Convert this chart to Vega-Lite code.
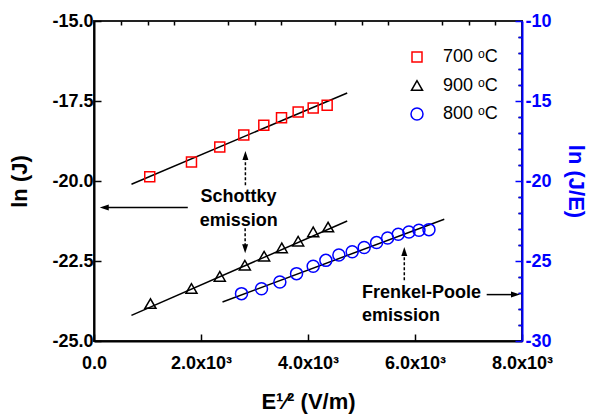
{
  "$schema": "https://vega.github.io/schema/vega-lite/v6.json",
  "width": 428,
  "height": 320,
  "autosize": {"type": "none"},
  "padding": {"left": 94, "top": 21, "right": 67, "bottom": 73},
  "background": "white",
  "config": {
    "font": "Liberation Sans",
    "view": {"stroke": "#222222", "strokeWidth": 2},
    "axis": {"grid": false}
  },
  "datasets": {
    "pts": [
      {"series": "700 ᵒC", "side": "left", "x": 1042, "y": -19.87},
      {"series": "700 ᵒC", "side": "left", "x": 1822, "y": -19.41},
      {"series": "700 ᵒC", "side": "left", "x": 2351, "y": -18.94},
      {"series": "700 ᵒC", "side": "left", "x": 2800, "y": -18.56},
      {"series": "700 ᵒC", "side": "left", "x": 3174, "y": -18.26},
      {"series": "700 ᵒC", "side": "left", "x": 3505, "y": -18.02},
      {"series": "700 ᵒC", "side": "left", "x": 3816, "y": -17.84},
      {"series": "700 ᵒC", "side": "left", "x": 4097, "y": -17.72},
      {"series": "700 ᵒC", "side": "left", "x": 4358, "y": -17.63},
      {"series": "900 ᵒC", "side": "left", "x": 1055, "y": -23.83},
      {"series": "900 ᵒC", "side": "left", "x": 1822, "y": -23.36},
      {"series": "900 ᵒC", "side": "left", "x": 2351, "y": -22.98},
      {"series": "900 ᵒC", "side": "left", "x": 2820, "y": -22.63},
      {"series": "900 ᵒC", "side": "left", "x": 3180, "y": -22.35},
      {"series": "900 ᵒC", "side": "left", "x": 3510, "y": -22.09},
      {"series": "900 ᵒC", "side": "left", "x": 3816, "y": -21.88},
      {"series": "900 ᵒC", "side": "left", "x": 4097, "y": -21.59},
      {"series": "900 ᵒC", "side": "left", "x": 4375, "y": -21.44},
      {"series": "800 ᵒC", "side": "right", "x": 2757, "y": -27.04},
      {"series": "800 ᵒC", "side": "right", "x": 3131, "y": -26.73},
      {"series": "800 ᵒC", "side": "right", "x": 3474, "y": -26.31},
      {"series": "800 ᵒC", "side": "right", "x": 3786, "y": -25.79},
      {"series": "800 ᵒC", "side": "right", "x": 4097, "y": -25.33},
      {"series": "800 ᵒC", "side": "right", "x": 4334, "y": -24.96},
      {"series": "800 ᵒC", "side": "right", "x": 4577, "y": -24.63},
      {"series": "800 ᵒC", "side": "right", "x": 4826, "y": -24.42},
      {"series": "800 ᵒC", "side": "right", "x": 5050, "y": -24.16},
      {"series": "800 ᵒC", "side": "right", "x": 5282, "y": -23.85},
      {"series": "800 ᵒC", "side": "right", "x": 5488, "y": -23.56},
      {"series": "800 ᵒC", "side": "right", "x": 5687, "y": -23.33},
      {"series": "800 ᵒC", "side": "right", "x": 5887, "y": -23.19},
      {"series": "800 ᵒC", "side": "right", "x": 6074, "y": -23.08},
      {"series": "800 ᵒC", "side": "right", "x": 6261, "y": -23.04}
    ],
    "fits": [
      {"series": "700 ᵒC", "side": "left", "x": 700, "y": -20.10},
      {"series": "700 ᵒC", "side": "left", "x": 4733, "y": -17.25},
      {"series": "900 ᵒC", "side": "left", "x": 700, "y": -24.20},
      {"series": "900 ᵒC", "side": "left", "x": 4733, "y": -21.25},
      {"series": "800 ᵒC", "side": "right", "x": 2402, "y": -27.56},
      {"series": "800 ᵒC", "side": "right", "x": 6547, "y": -22.39}
    ],
    "arrows": [
      {"style": "dash", "x": 2830, "x2": 2830, "y": -20.13, "y2": -19.2},
      {"style": "dash", "x": 2825, "x2": 2825, "y": -21.48, "y2": -22.1},
      {"style": "dash", "x": 5800, "x2": 5800, "y": -23.10, "y2": -22.2},
      {"style": "solid", "x": 1753, "x2": 250, "y": -20.83, "y2": -20.83},
      {"style": "solid", "x": 7340, "x2": 7800, "y": -23.55, "y2": -23.55}
    ],
    "heads": [
      {"dir": "up", "x": 2830, "y": -19.06},
      {"dir": "down", "x": 2825, "y": -22.26},
      {"dir": "up", "x": 5800, "y": -22.06},
      {"dir": "left", "x": 107, "y": -20.83},
      {"dir": "right", "x": 7963, "y": -23.55}
    ],
    "notes": [
      {"align": "center", "text": "Schottky", "x": 2700, "y": -20.66},
      {"align": "center", "text": "emission", "x": 2707, "y": -21.42},
      {"align": "left", "text": "Frenkel-Poole", "x": 5008, "y": -23.66},
      {"align": "left", "text": "emission", "x": 5008, "y": -24.375}
    ]
  },
  "layer": [
    {
      "resolve": {"axis": {"x": "independent", "y": "independent"}},
      "layer": [
        {
          "data": {"name": "fits"},
          "transform": [{"filter": "datum.side == 'left'"}],
          "mark": {"type": "line", "color": "black", "strokeWidth": 1.5},
          "encoding": {
            "x": {
              "field": "x", "type": "quantitative",
              "scale": {"domain": [0, 8000], "nice": false, "zero": false},
              "axis": {
                "values": [0, 2000, 4000, 6000, 8000],
                "labelExpr": "datum.value == 0 ? '0.0' : format(datum.value / 1000, '.1f') + 'x10³'",
                "tickSize": -7,
                "tickColor": "black", "tickWidth": 1.5,
                "domainColor": "black", "domainWidth": 2,
                "labelFont": "Liberation Sans", "labelFontWeight": "bold", "labelFontSize": 18, "labelColor": "black",
                "labelPadding": 20, "labelFlush": false, "labelOverlap": false,
                "title": "E¹⁄² (V/m)", "titleFont": "Liberation Sans", "titleFontSize": 22, "titleFontWeight": "bold", "titleColor": "black",
                "titlePadding": 19
              }
            },
            "y": {
              "field": "y", "type": "quantitative",
              "scale": {"domain": [-25, -15], "nice": false, "zero": false},
              "axis": {
                "values": [-25, -22.5, -20, -17.5, -15],
                "labelExpr": "replace(format(datum.value, '.1f'), '−', '-')",
                "tickSize": -7,
                "tickColor": "black", "tickWidth": 1.5,
                "domainColor": "black", "domainWidth": 2,
                "labelFont": "Liberation Sans", "labelFontWeight": "bold", "labelFontSize": 18, "labelColor": "black",
                "labelPadding": 8, "labelFlush": false, "labelOverlap": false,
                "title": "ln (J)", "titleFont": "Liberation Sans", "titleFontSize": 22, "titleFontWeight": "bold", "titleColor": "black",
                "titlePadding": 20
              }
            },
            "detail": {"field": "series"}
          }
        },
        {
          "data": {"name": "pts"},
          "transform": [{"filter": "datum.side == 'left'"}],
          "mark": {"type": "point", "filled": false, "strokeWidth": 1.5, "opacity": 1},
          "encoding": {
            "x": {
              "field": "x", "type": "quantitative", "scale": {"domain": [0, 8000], "nice": false, "zero": false},
              "axis": {"values": [500, 1000, 1500, 2500, 3000, 3500, 4500, 5000, 5500, 6500, 7000, 7500], "labels": false, "domain": false, "title": null, "tickSize": -4, "tickColor": "black", "tickWidth": 1.5}
            },
            "y": {
              "field": "y", "type": "quantitative", "scale": {"domain": [-25, -15], "nice": false, "zero": false},
              "axis": {"values": [-24.5, -24, -23.5, -23, -22, -21.5, -21, -20.5, -19.5, -19, -18.5, -18, -17, -16.5, -16, -15.5], "labels": false, "domain": false, "title": null, "tickSize": -4, "tickColor": "black", "tickWidth": 1.5}
            },
            "color": {
              "field": "series", "type": "nominal",
              "scale": {"domain": ["700 ᵒC", "900 ᵒC", "800 ᵒC"], "range": ["#ff0000", "#000000", "#0000ff"]},
              "legend": {"title": null, "orient": "none", "legendX": 314, "legendY": 27, "symbolSize": 100, "symbolStrokeWidth": 1.5, "labelFont": "Liberation Sans", "labelFontSize": 18, "labelColor": "black", "labelOffset": 17, "rowPadding": 10.5}
            },
            "shape": {
              "field": "series", "type": "nominal",
              "scale": {"domain": ["700 ᵒC", "900 ᵒC", "800 ᵒC"], "range": ["square", "triangle-up", "circle"]},
              "legend": {"title": null, "orient": "none", "legendX": 314, "legendY": 27, "symbolSize": 100, "symbolStrokeWidth": 1.5, "labelFont": "Liberation Sans", "labelFontSize": 18, "labelColor": "black", "labelOffset": 17, "rowPadding": 10.5}
            },
            "size": {
              "field": "series", "type": "nominal",
              "scale": {"domain": ["700 ᵒC", "900 ᵒC", "800 ᵒC"], "range": [100, 144, 121]},
              "legend": null
            }
          }
        },
        {
          "data": {"name": "arrows"},
          "transform": [{"filter": "datum.style == 'dash'"}],
          "mark": {"type": "rule", "color": "black", "strokeWidth": 1.5, "strokeDash": [3, 2]},
          "encoding": {
            "x": {"field": "x", "type": "quantitative", "scale": {"domain": [0, 8000], "nice": false, "zero": false}, "axis": null},
            "x2": {"field": "x2"},
            "y": {"field": "y", "type": "quantitative", "scale": {"domain": [-25, -15], "nice": false, "zero": false}, "axis": null},
            "y2": {"field": "y2"}
          }
        },
        {
          "data": {"name": "arrows"},
          "transform": [{"filter": "datum.style == 'solid'"}],
          "mark": {"type": "rule", "color": "black", "strokeWidth": 1.5},
          "encoding": {
            "x": {"field": "x", "type": "quantitative", "scale": {"domain": [0, 8000], "nice": false, "zero": false}, "axis": null},
            "x2": {"field": "x2"},
            "y": {"field": "y", "type": "quantitative", "scale": {"domain": [-25, -15], "nice": false, "zero": false}, "axis": null},
            "y2": {"field": "y2"}
          }
        },
        {
          "data": {"name": "heads"},
          "transform": [{"filter": "datum.dir == 'up'"}],
          "mark": {"type": "point", "filled": true, "color": "black", "opacity": 1, "size": 64, "shape": "M0,0L0.75,2.25L-0.75,2.25Z"},
          "encoding": {
            "x": {"field": "x", "type": "quantitative", "scale": {"domain": [0, 8000], "nice": false, "zero": false}, "axis": null},
            "y": {"field": "y", "type": "quantitative", "scale": {"domain": [-25, -15], "nice": false, "zero": false}, "axis": null}
          }
        },
        {
          "data": {"name": "heads"},
          "transform": [{"filter": "datum.dir == 'down'"}],
          "mark": {"type": "point", "filled": true, "color": "black", "opacity": 1, "size": 64, "shape": "M0,0L0.75,-2.25L-0.75,-2.25Z"},
          "encoding": {
            "x": {"field": "x", "type": "quantitative", "scale": {"domain": [0, 8000], "nice": false, "zero": false}, "axis": null},
            "y": {"field": "y", "type": "quantitative", "scale": {"domain": [-25, -15], "nice": false, "zero": false}, "axis": null}
          }
        },
        {
          "data": {"name": "heads"},
          "transform": [{"filter": "datum.dir == 'left'"}],
          "mark": {"type": "point", "filled": true, "color": "black", "opacity": 1, "size": 64, "shape": "M0,0L2.25,-0.75L2.25,0.75Z"},
          "encoding": {
            "x": {"field": "x", "type": "quantitative", "scale": {"domain": [0, 8000], "nice": false, "zero": false}, "axis": null},
            "y": {"field": "y", "type": "quantitative", "scale": {"domain": [-25, -15], "nice": false, "zero": false}, "axis": null}
          }
        },
        {
          "data": {"name": "heads"},
          "transform": [{"filter": "datum.dir == 'right'"}],
          "mark": {"type": "point", "filled": true, "color": "black", "opacity": 1, "size": 64, "shape": "M0,0L-2.25,-0.75L-2.25,0.75Z"},
          "encoding": {
            "x": {"field": "x", "type": "quantitative", "scale": {"domain": [0, 8000], "nice": false, "zero": false}, "axis": null},
            "y": {"field": "y", "type": "quantitative", "scale": {"domain": [-25, -15], "nice": false, "zero": false}, "axis": null}
          }
        },
        {
          "data": {"name": "notes"},
          "transform": [{"filter": "datum.align == 'center'"}],
          "mark": {"type": "text", "align": "center", "baseline": "alphabetic", "font": "Liberation Sans", "fontSize": 18, "fontWeight": "bold", "color": "black"},
          "encoding": {
            "x": {"field": "x", "type": "quantitative", "scale": {"domain": [0, 8000], "nice": false, "zero": false}, "axis": null},
            "y": {"field": "y", "type": "quantitative", "scale": {"domain": [-25, -15], "nice": false, "zero": false}, "axis": null},
            "text": {"field": "text"}
          }
        },
        {
          "data": {"name": "notes"},
          "transform": [{"filter": "datum.align == 'left'"}],
          "mark": {"type": "text", "align": "left", "baseline": "alphabetic", "font": "Liberation Sans", "fontSize": 18, "fontWeight": "bold", "color": "black"},
          "encoding": {
            "x": {"field": "x", "type": "quantitative", "scale": {"domain": [0, 8000], "nice": false, "zero": false}, "axis": null},
            "y": {"field": "y", "type": "quantitative", "scale": {"domain": [-25, -15], "nice": false, "zero": false}, "axis": null},
            "text": {"field": "text"}
          }
        }
      ]
    },
    {
      "resolve": {"axis": {"y": "independent"}},
      "layer": [
        {
          "data": {"name": "fits"},
          "transform": [{"filter": "datum.side == 'right'"}],
          "mark": {"type": "line", "color": "black", "strokeWidth": 1.5},
          "encoding": {
            "x": {"field": "x", "type": "quantitative", "scale": {"domain": [0, 8000], "nice": false, "zero": false}, "axis": null},
            "y": {
              "field": "y", "type": "quantitative",
              "scale": {"domain": [-30, -10], "nice": false, "zero": false},
              "axis": {
                "orient": "right",
                "values": [-30, -25, -20, -15, -10],
                "labelExpr": "replace(format(datum.value, 'd'), '−', '-')",
                "tickSize": -7,
                "tickColor": "#0000ff", "tickWidth": 1.5,
                "domainColor": "#0000ff", "domainWidth": 2,
                "labelFont": "Liberation Sans", "labelFontWeight": "bold", "labelFontSize": 18, "labelColor": "#0000ff",
                "labelPadding": 10, "labelFlush": false, "labelOverlap": false,
                "title": "ln (J/E)", "titleFont": "Liberation Sans", "titleFontSize": 22, "titleFontWeight": "bold", "titleColor": "#0000ff",
                "titlePadding": 12
              }
            }
          }
        },
        {
          "data": {"name": "pts"},
          "transform": [{"filter": "datum.side == 'right'"}],
          "mark": {"type": "point", "filled": false, "strokeWidth": 1.5, "opacity": 1},
          "encoding": {
            "x": {"field": "x", "type": "quantitative", "scale": {"domain": [0, 8000], "nice": false, "zero": false}, "axis": null},
            "y": {
              "field": "y", "type": "quantitative", "scale": {"domain": [-30, -10], "nice": false, "zero": false},
              "axis": {"orient": "right", "values": [-29, -28, -27, -26, -24, -23, -22, -21, -19, -18, -17, -16, -14, -13, -12, -11], "labels": false, "domain": false, "title": null, "tickSize": -4, "tickColor": "#0000ff", "tickWidth": 1.5}
            },
            "color": {
              "field": "series", "type": "nominal",
              "scale": {"domain": ["700 ᵒC", "900 ᵒC", "800 ᵒC"], "range": ["#ff0000", "#000000", "#0000ff"]},
              "legend": {"title": null, "orient": "none", "legendX": 314, "legendY": 27, "symbolSize": 100, "symbolStrokeWidth": 1.5, "labelFont": "Liberation Sans", "labelFontSize": 18, "labelColor": "black", "labelOffset": 17, "rowPadding": 10.5}
            },
            "shape": {
              "field": "series", "type": "nominal",
              "scale": {"domain": ["700 ᵒC", "900 ᵒC", "800 ᵒC"], "range": ["square", "triangle-up", "circle"]},
              "legend": {"title": null, "orient": "none", "legendX": 314, "legendY": 27, "symbolSize": 100, "symbolStrokeWidth": 1.5, "labelFont": "Liberation Sans", "labelFontSize": 18, "labelColor": "black", "labelOffset": 17, "rowPadding": 10.5}
            },
            "size": {
              "field": "series", "type": "nominal",
              "scale": {"domain": ["700 ᵒC", "900 ᵒC", "800 ᵒC"], "range": [100, 144, 121]},
              "legend": null
            }
          }
        }
      ]
    }
  ],
  "resolve": {"scale": {"y": "independent"}}
}
